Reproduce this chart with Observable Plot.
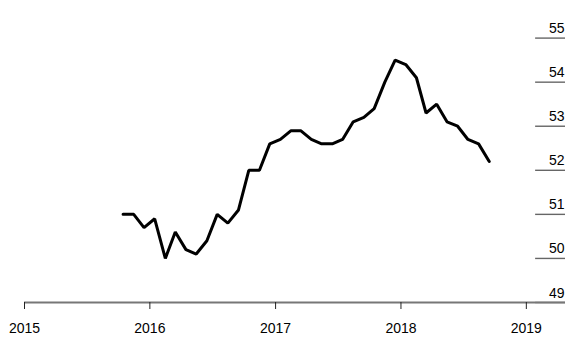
<!DOCTYPE html>
<html>
<head>
<meta charset="utf-8">
<script src="https://cdn.jsdelivr.net/npm/d3@7"></script>
<script src="https://cdn.jsdelivr.net/npm/@observablehq/plot@0.6"></script>
<style>
  body { margin: 0; background: #fff; }
  #chart svg { display: block; }
</style>
</head>
<body>
<div id="chart"></div>
<script>
// Monthly readings (mid-month), Oct 2015 – Sep 2018
const months = [
  "2015-10","2015-11","2015-12",
  "2016-01","2016-02","2016-03","2016-04","2016-05","2016-06","2016-07","2016-08","2016-09","2016-10","2016-11","2016-12",
  "2017-01","2017-02","2017-03","2017-04","2017-05","2017-06","2017-07","2017-08","2017-09","2017-10","2017-11","2017-12",
  "2018-01","2018-02","2018-03","2018-04","2018-05","2018-06","2018-07","2018-08","2018-09"
];
const values = [
  51.0, 51.0, 50.7,
  50.9, 50.0, 50.6, 50.2, 50.1, 50.4, 51.0, 50.8, 51.1, 52.0, 52.0, 52.6,
  52.7, 52.9, 52.9, 52.7, 52.6, 52.6, 52.7, 53.1, 53.2, 53.4, 54.0, 54.5,
  54.4, 54.1, 53.3, 53.5, 53.1, 53.0, 52.7, 52.6, 52.2
];
const yTicks = [49, 50, 51, 52, 53, 54, 55];
const xTickYears = ["2015", "2016", "2017", "2018", "2019"];

const data = months.map((m, i) => ({date: new Date(m + "-15T00:00:00Z"), value: values[i]}));
const xStart = new Date("2015-01-01T00:00:00Z");
const xEnd = new Date("2019-04-25T00:00:00Z");
const tickStart = new Date("2019-01-28T00:00:00Z");
const xTicks = xTickYears.map(y => new Date(y + "-01-01T00:00:00Z"));

const chart = Plot.plot({
  width: 577,
  height: 348,
  marginTop: 37.6,
  marginBottom: 46,
  marginLeft: 24,
  marginRight: 12,
  style: {fontFamily: "'Liberation Sans', Arial, Helvetica, sans-serif", fontSize: "14px", color: "#000", background: "#fff"},
  x: {type: "utc", domain: [xStart, xEnd], axis: null},
  y: {domain: [49, 55], axis: null},
  marks: [
    Plot.ruleY(yTicks, {y: d => d, x1: tickStart, x2: xEnd, stroke: "#666", strokeWidth: 1.4}),
    Plot.ruleY([49], {x1: xStart, x2: xEnd, stroke: "#777", strokeWidth: 2}),
    Plot.text(yTicks, {y: d => d, x: xEnd, text: d => String(d), textAnchor: "end", lineAnchor: "bottom", dy: -5, dx: -1, fill: "#000", fontSize: 14}),
    Plot.axisX({ticks: xTicks, tickFormat: d3.utcFormat("%Y"), tickSize: 7, tickPadding: 14, stroke: "#222", fill: "#000", fontSize: 14, label: null}),
    Plot.line(data, {x: "date", y: "value", stroke: "#000", strokeWidth: 3, strokeLinejoin: "miter", curve: "linear"})
  ]
});
document.getElementById("chart").appendChild(chart);
</script>
</body>
</html>
